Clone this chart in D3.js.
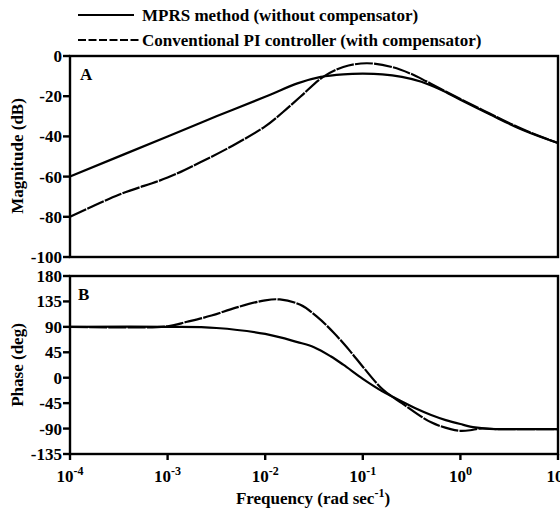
<!DOCTYPE html>
<html><head><meta charset="utf-8">
<script src="https://cdn.jsdelivr.net/npm/d3@7"></script>
<style>body{margin:0;background:#fff}svg{display:block}</style>
</head><body>
<script>
// log10 of frequency (rad/s)
const magSolidLogF = [-4,-3,-2.5,-2,-1.67,-1.43,-1.2,-1.0,-0.8,-0.6,-0.4,-0.2,0,0.3,0.64,1];
const magSolid     = [-60,-40,-30,-20.3,-13.6,-10.4,-9.1,-8.8,-9.1,-10.4,-12.8,-16.8,-21.8,-29,-36.8,-43.3];
const magDashLogF  = [-4,-3.5,-3,-2.67,-2.33,-2.0,-1.82,-1.64,-1.41,-1.2,-0.96,-0.7,-0.5,-0.35,-0.2,0,0.3,0.64,1];
const magDash      = [-80,-69,-60.5,-53,-44.5,-35,-28,-20.3,-10.5,-5.5,-3.6,-5.5,-9,-12.6,-16.4,-21.4,-28.6,-36.5,-43.3];
const phSolidLogF  = [-4,-3,-2.5,-2,-1.67,-1.5,-1.33,-1.2,-1.0,-0.8,-0.6,-0.45,-0.3,-0.15,0,0.15,0.3,0.5,1];
const phSolid      = [90,90,88,77.5,63,54,38,23,-2,-24,-42,-55,-66,-75,-82,-88,-90.5,-91,-91];
const phDashLogF   = [-4,-3,-2.8,-2.55,-2.3,-2.0,-1.85,-1.64,-1.47,-1.3,-1.13,-1.0,-0.8,-0.6,-0.3,-0.1,0,0.1,0.2,0.4,1];
const phDash       = [90,91,99,110,124,137,138.5,129,108,80,47,19.5,-20,-45,-79,-91,-94,-93,-90,-91,-91];
const xTickExp = [-4,-3,-2,-1,0,1];
const magTicks = [0,-20,-40,-60,-80,-100];
const phTicks = [180,135,90,45,0,-45,-90,-135];
const legendLabels = ["MPRS method (without compensator)","Conventional PI controller (with compensator)"];

const W=560,H=516;
const svg=d3.select("body").append("svg").attr("width",W).attr("height",H);
const x=d3.scaleLog().domain([1e-4,1e1]).range([70,558]);
const yM=d3.scaleLinear().domain([-100,0]).range([257,56]);
const yP=d3.scaleLinear().domain([-135,180]).range([454,276]);

function txt(sel,size){return sel.attr("font-family","Liberation Serif").attr("font-weight","bold").attr("font-size",size||17).attr("fill","#000");}

// text first
function yLabels(scale,ticks){
  ticks.forEach(v=>{
    txt(svg.append("text")).attr("x",62).attr("y",scale(v)+6).attr("text-anchor","end").text(String(v));
  });
}
yLabels(yM,magTicks); yLabels(yP,phTicks);
xTickExp.forEach(e=>{
  const t=txt(svg.append("text")).attr("x",x(Math.pow(10,e))).attr("y",482).attr("text-anchor","middle");
  t.append("tspan").text("10");
  t.append("tspan").attr("dy",-7).attr("font-size",12).text(e<0?"-"+(-e):String(e));
});
const xl=txt(svg.append("text")).attr("x",313).attr("y",504).attr("text-anchor","middle");
xl.append("tspan").text("Frequency (rad sec");
xl.append("tspan").attr("dy",-7).attr("font-size",12).text("-1");
xl.append("tspan").attr("dy",7).text(")");
txt(svg.append("text")).attr("transform","translate(23,156) rotate(-90)").attr("text-anchor","middle").text("Magnitude (dB)");
txt(svg.append("text")).attr("transform","translate(23,365) rotate(-90)").attr("text-anchor","middle").text("Phase (deg)");
txt(svg.append("text")).attr("x",80).attr("y",80).text("A");
txt(svg.append("text")).attr("x",78).attr("y",300).text("B");
txt(svg.append("text")).attr("x",142).attr("y",21).text(legendLabels[0]);
txt(svg.append("text")).attr("x",142).attr("y",46).text(legendLabels[1]);

const toPts=(lf,v)=>lf.map((l,i)=>[Math.pow(10,l),v[i]]);
function curve(ys,lf,v,dash){
  const line=d3.line().x(d=>x(d[0])).y(d=>ys(d[1])).curve(d3.curveCatmullRom.alpha(0.5));
  svg.append("path").attr("d",line(toPts(lf,v))).attr("fill","none").attr("stroke","#000")
    .attr("stroke-width",2.2).attr("stroke-dasharray",dash?"18,1.2":null);
}
curve(yM,magSolidLogF,magSolid,false);
curve(yM,magDashLogF,magDash,true);
curve(yP,phSolidLogF,phSolid,false);
curve(yP,phDashLogF,phDash,true);

function frame(y0,y1){
  svg.append("rect").attr("x",70).attr("y",y0).attr("width",488).attr("height",y1-y0)
    .attr("fill","none").attr("stroke","#000").attr("stroke-width",2.4);
}
frame(56,257); frame(276,454);
// tick marks
svg.selectAll(null).data(magTicks).enter().append("line")
  .attr("x1",63).attr("x2",70).attr("y1",d=>yM(d)).attr("y2",d=>yM(d)).attr("stroke","#000").attr("stroke-width",2.4);
svg.selectAll(null).data(phTicks).enter().append("line")
  .attr("x1",63).attr("x2",70).attr("y1",d=>yP(d)).attr("y2",d=>yP(d)).attr("stroke","#000").attr("stroke-width",2.4);
svg.selectAll(null).data(xTickExp).enter().append("line")
  .attr("x1",d=>x(Math.pow(10,d))).attr("x2",d=>x(Math.pow(10,d))).attr("y1",454).attr("y2",460).attr("stroke","#000").attr("stroke-width",2.4);
// legend lines
svg.append("line").attr("x1",78).attr("x2",134).attr("y1",15).attr("y2",15).attr("stroke","#000").attr("stroke-width",2.2);
svg.append("line").attr("x1",78).attr("x2",141).attr("y1",40).attr("y2",40).attr("stroke","#000").attr("stroke-width",2.2).attr("stroke-dasharray","8,2.5");
</script>
</body></html>
